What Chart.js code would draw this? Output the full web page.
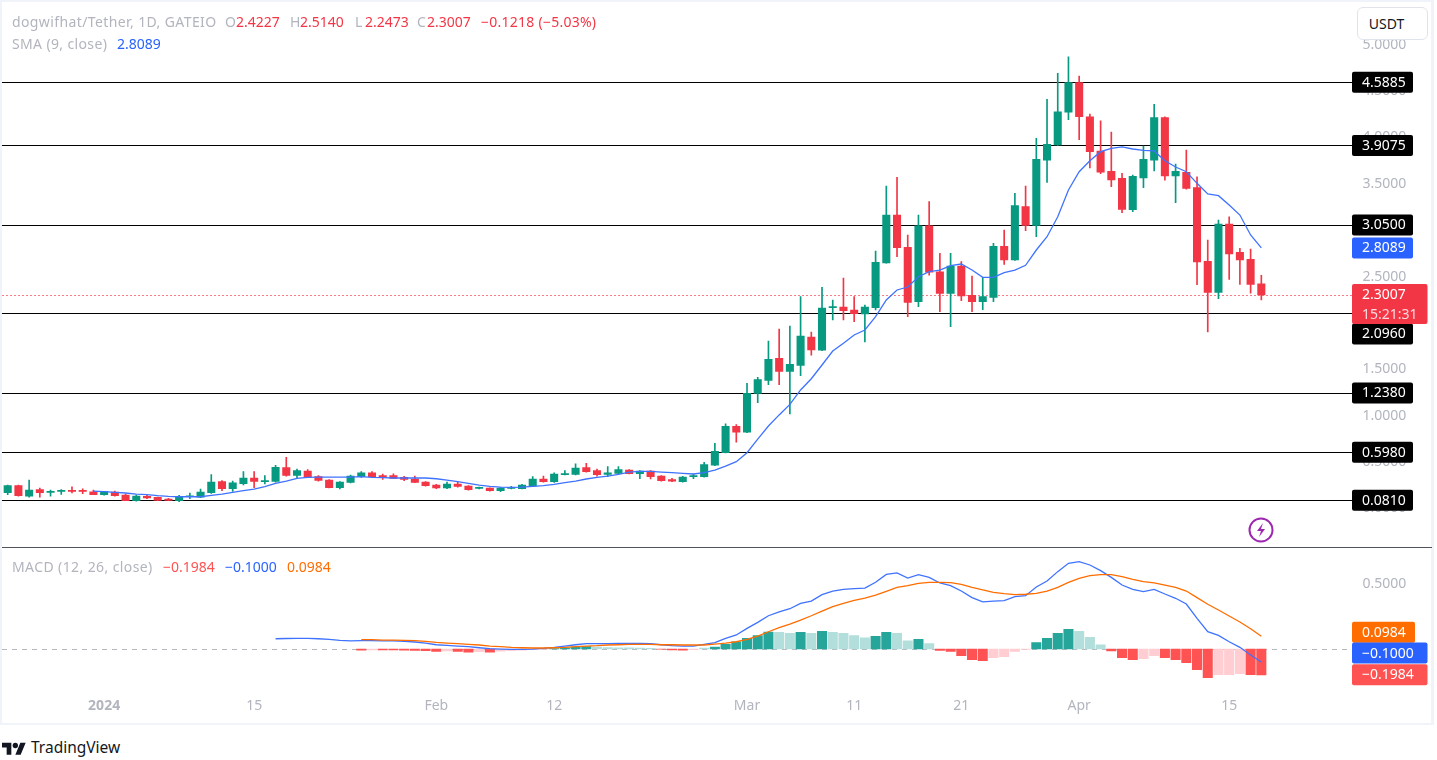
<!DOCTYPE html>
<html><head><meta charset="utf-8"><title>DOGWIF/USDT</title>
<script src="https://cdn.jsdelivr.net/npm/chart.js@4"></script>
<style>
html,body{margin:0;padding:0;background:#fff;width:1437px;height:760px;overflow:hidden}
body{font-family:"Noto Sans",sans-serif;position:relative}
canvas{position:absolute;left:0}
.t{position:absolute;white-space:pre;font-size:14px;line-height:18px;color:#b2b5be}
.frame{position:absolute;left:0;top:0;width:1429px;height:721px;border:2px solid #f0f3fa;border-right-width:3px}
.sep{position:absolute;left:2px;top:547px;width:1430px;height:1px;background:#50535e}
.btn{position:absolute;left:1357px;top:7px;width:57px;height:31px;padding-right:12px;border:1px solid #e0e3eb;border-radius:6px;background:#fff;color:#131722;font-size:14px;line-height:31px;text-align:center}
svg{position:absolute}
</style></head><body>
<canvas id="main" width="1433" height="548" style="top:0;width:1433px;height:548px"></canvas>
<canvas id="osc" width="1433" height="176" style="top:548px;width:1433px;height:176px"></canvas>
<div class="frame"></div><div class="sep"></div>
<div class="btn">USDT</div>
<div id="legend"></div>
<svg style="left:1248px;top:517px" width="26" height="26" viewBox="0 0 26 26"><circle cx="13" cy="13" r="11.5" fill="#fff" stroke="#9c27b0" stroke-width="2"/><path d="M15 6l-6 8h4l-2 6 6-8h-4z" fill="#9c27b0"/></svg>
<svg style="left:2px;top:740px" width="24" height="15" viewBox="0 0 36 22"><path d="M14 22H7V11H0V4h14v18zM28 22h-8l7.5-18h8L28 22z" fill="#131722"/><circle cx="20" cy="8" r="4" fill="#131722"/></svg>
<div class="t" style="left:31px;top:738px;font-size:15.5px;color:#131722">TradingView</div>
<script>
// ---- data ----
const opens=[.170,.245,.133,.202,.173,.184,.191,.191,.180,.148,
.176,.144,.083,.130,.119,.101,.083,.126,.122,.169,
.288,.212,.266,.328,.288,.292,.439,.356,.403,.342,
.306,.223,.281,.342,.385,.353,.353,.335,.317,.284,
.252,.220,.263,.241,.216,.220,.191,.216,.212,.241,
.317,.288,.364,.367,.439,.407,.367,.378,.414,.374,
.403,.349,.310,.288,.342,.342,.465,.601,.886,.821,
1.241,1.381,1.618,1.478,1.543,1.848,1.705,2.164,2.171,2.139,
2.096,2.164,2.646,3.163,2.815,2.229,3.048,2.552,2.319,2.614,
2.298,2.229,2.276,2.826,2.678,3.253,3.052,3.756,3.918,4.271,
4.590,4.223,3.853,3.635,3.559,3.221,3.562,3.756,4.213,3.584,
3.624,3.458,2.664,2.330,3.066,2.761,2.686,2.4227];
const highs=[.252,.252,.306,.220,.198,.202,.234,.212,.198,.184,
.187,.155,.144,.144,.122,.108,.140,.166,.209,.364,
.299,.295,.396,.396,.353,.464,.551,.425,.418,.353,
.310,.288,.360,.396,.396,.371,.374,.346,.349,.288,
.259,.284,.288,.245,.230,.223,.227,.238,.259,.342,
.349,.385,.407,.482,.486,.425,.450,.450,.418,.407,
.407,.353,.324,.346,.371,.497,.702,.911,.904,1.349,
1.414,1.805,1.934,1.967,2.283,1.902,2.384,2.247,2.484,2.283,
2.193,2.775,3.476,3.570,2.948,3.163,3.307,2.750,2.750,2.660,
2.506,2.492,2.858,3.002,3.397,3.476,3.990,4.411,4.691,4.870,
4.662,4.252,4.180,4.058,3.613,3.595,3.907,4.357,4.223,3.713,
3.864,3.576,2.894,3.110,3.145,2.804,2.797,2.514];
const lows=[.148,.133,.122,.122,.133,.151,.166,.158,.148,.144,
.133,.083,.079,.104,.083,.083,.072,.104,.115,.162,
.191,.184,.252,.223,.263,.284,.349,.320,.335,.295,
.220,.209,.274,.335,.338,.313,.320,.299,.277,.241,
.212,.212,.230,.198,.209,.187,.180,.209,.209,.238,
.284,.281,.360,.360,.392,.349,.342,.374,.371,.320,
.317,.295,.288,.284,.320,.338,.461,.598,.713,.817,
1.140,1.334,1.334,1.018,1.431,1.651,1.700,2.031,2.031,2.013,
1.794,2.139,2.643,2.714,2.067,2.175,2.516,2.121,1.959,2.239,
2.121,2.142,2.229,2.632,2.675,2.994,2.929,3.516,3.915,4.191,
3.975,3.670,3.609,3.469,3.188,3.199,3.458,3.638,3.538,3.296,
3.441,2.412,1.902,2.261,2.470,2.416,2.322,2.2473];
const closes=[.245,.137,.198,.170,.180,.191,.184,.184,.148,.184,
.137,.083,.133,.112,.086,.086,.130,.133,.176,.284,
.212,.277,.328,.292,.299,.443,.356,.407,.338,.302,
.223,.284,.349,.385,.342,.338,.324,.313,.281,.245,
.220,.263,.238,.202,.220,.191,.220,.227,.252,.317,
.288,.371,.371,.436,.396,.364,.385,.418,.374,.403,
.342,.299,.295,.338,.353,.472,.616,.886,.821,1.241,
1.388,1.608,1.478,1.554,1.859,1.708,2.161,2.175,2.132,2.099,
2.171,2.653,3.163,2.811,2.222,3.048,2.546,2.319,2.614,2.290,
2.229,2.283,2.826,2.678,3.264,3.050,3.764,3.926,4.277,4.590,
4.223,3.846,3.624,3.541,3.225,3.581,3.764,4.213,3.584,3.635,
3.451,2.657,2.330,3.066,2.743,2.678,2.416,2.3007];
const smaValues=[null,null,null,null,null,null,null,null,
.187,.180,.173,.166,.155,.148,.137,.130,.126,.126,.126,.140,.155,.173,.191,.209,.234,.270,.295,.324,.335,.338,.338,.338,.338,.342,
.335,.331,.328,.328,.328,.328,.320,.306,.288,.270,.252,.238,.230,.227,.230,.238,.245,.259,.277,.295,.317,.335,.349,.367,.392,.400,.400,.392,.385,.378,.371,
.385,.414,.457,.504,.601,.748,.888,1.008,1.122,1.277,1.398,1.546,1.697,1.780,1.870,1.924,2.067,2.247,2.355,2.387,
2.498,2.552,2.570,2.617,2.635,2.570,2.492,2.492,2.541,2.570,2.621,2.786,2.929,
3.145,3.433,3.630,3.749,3.846,3.883,3.897,3.875,3.861,3.854,3.749,3.681,3.630,3.505,3.390,3.372,3.271,3.163,2.948,2.8089];
const macdValues=[null,null,null,null,null,null,null,null,null,null,null,null,null,null,null,null,null,null,null,null,null,null,null,null,null,
.079,.081,.082,.082,.079,.074,.067,.062,.064,.064,.063,.062,.059,.054,.046,.033,.028,.023,.018,.010,.003,0,-.003,-.003,0,.005,.013,.023,.033,.041,.041,.041,.044,.044,.044,.041,.033,.026,.023,.023,
.036,.049,.082,.108,.159,.205,.256,.285,.310,.351,.369,.418,.446,.459,.464,.469,.513,.574,.585,.546,.572,.551,.508,.487,.446,.395,.362,.369,.372,
.403,.410,.477,.523,.595,.659,.672,.646,.603,.551,.492,.459,.441,.459,.423,.390,.346,.236,.133,.105,.056,.013,-.046,-.1];
const signalValues=[null,null,null,null,null,null,null,null,null,null,null,null,null,null,null,null,null,null,null,null,null,null,null,null,null,null,null,null,null,null,null,null,null,
.072,.072,.069,.069,.067,.064,.059,.051,.046,.041,.036,.031,.023,.018,.013,.010,.008,.008,.010,.013,.018,.023,.026,.031,.033,.036,.036,.036,.033,.033,.031,.031,
.031,.038,.046,.056,.074,.100,.133,.164,.192,.223,.256,.292,.326,.351,.374,.392,.415,.444,.474,.487,.505,.513,.513,.510,.497,.474,.454,.436,.426,
.418,.421,.428,.446,.474,.513,.544,.564,.572,.572,.556,.536,.518,.508,.492,.474,.446,.395,.344,.300,.254,.208,.156,.0984];
const histValues=[null,null,null,null,null,null,null,null,null,null,null,null,null,null,null,null,null,null,null,null,null,null,null,null,null,null,null,null,null,null,null,null,null,
-.008,-.006,-.006,-.007,-.008,-.010,-.013,-.018,-.015,-.018,-.024,-.020,-.024,-.016,-.012,-.008,-.004,-.002,
.003,.010,.015,.018,.015,.012,.010,.009,.008,.005,-.002,-.006,-.008,-.005,
.008,.015,.036,.056,.082,.103,.131,.128,.121,.128,.121,.136,.128,.121,.103,.087,.097,.128,.121,.064,.074,.041,
-.010,-.018,-.051,-.082,-.090,-.067,-.059,-.018,-.003,
.049,.082,.121,.151,.136,.090,.033,
-.015,-.067,-.082,-.074,-.051,-.067,-.082,-.105,-.159,-.221,-.197,-.197,-.190,-.197,-.1984];
// true where the histogram bar is drawn in the strong shade
const histStrong=[0,0,0,0,0,0,0,0,0,0,0,0,0,0,0,0,0,0,0,0,0,0,0,0,0,0,0,0,0,0,0,0,0,
1,0,1,1,1,1,1,1,0,1,1,0,1,0,0,0,0,0,
1,1,1,1,0,0,0,0,0,0,1,1,1,0,
0,1,1,1,1,1,1,0,0,1,0,1,0,0,0,0,1,1,0,0,1,0,
1,1,1,1,1,0,0,0,0,
1,1,1,1,0,0,0,
1,1,1,0,0,1,1,1,1,1,0,0,0,1,1];
const levels=[4.5885,3.9075,3.05,2.096,1.238,0.598,0.081];
const priceTicks=[5,4.5,4,3.5,3,2.5,2,1.5,1,0.5,0];
const oscTicks=[0.5];
const lastPrice=2.3007, lastSma=2.8089;
const tickDates=['2024-01-01','2024-01-15','2024-02-01','2024-02-12','2024-03-01','2024-03-11','2024-03-21','2024-04-01','2024-04-15'];
const tickTexts=['2024','15','Feb','12','Mar','11','21','Apr','15'];
const firstDay='2023-12-23', dayCount=118, blankDays=8;

// ---- styling ----
const UP='#089981',DOWN='#f23645',GREY='#b2b5be',FONT='"Noto Sans",sans-serif';
const categories=[];
for(let i=0;i<dayCount+blankDays;i++){categories.push(new Date(Date.parse(firstDay+'T00:00:00Z')+i*864e5).toISOString().slice(0,10));}
const candleColors=opens.map((o,i)=>closes[i]>=o?UP:DOWN);
const histColors=histValues.map((v,i)=>v>=0?(histStrong[i]?'#26a69a':'#b2dfdb'):(histStrong[i]?'#ff5252':'#ffcdd2'));
const PANE_RIGHT=1352.4, AXIS_W=1433-PANE_RIGHT;

function tag(ctx,x,y,w,h,color,lines){
  ctx.save();ctx.fillStyle=color;ctx.beginPath();ctx.roundRect(x,y-h/2,w,h,2);ctx.fill();
  ctx.font='14px '+FONT;ctx.textBaseline='middle';ctx.textAlign='left';
  lines.forEach(l=>{ctx.fillStyle=l.c||'#fff';ctx.fillText(l.t,x+10,y+(l.dy||0)+.5);});
  ctx.restore();
}
const mainPlugin={id:'mainOverlay',
  beforeDatasetsDraw(c){const g=c.ctx,s=c.scales.y,a=c.chartArea;g.save();
    g.strokeStyle='#000';g.lineWidth=1.1;
    levels.forEach(v=>{const y=Math.floor(s.getPixelForValue(v)-.3)+.5;g.beginPath();g.moveTo(2,y);g.lineTo(a.right,y);g.stroke();});
    g.strokeStyle='rgba(242,54,69,.65)';g.lineWidth=1;g.setLineDash([2,2]);
    const y=Math.round(s.getPixelForValue(lastPrice))+.5;g.beginPath();g.moveTo(2,y);g.lineTo(a.right,y);g.stroke();
    g.restore();},
  afterDraw(c){const g=c.ctx,s=c.scales.y,x=1352,p=v=>s.getPixelForValue(v);
    levels.forEach(v=>{let y=p(v)-.6;if(v===2.096)y+=20.6;tag(g,x,y,61,21,'#000',[{t:v.toFixed(4)}]);});
    tag(g,x,p(lastSma),61,21,'#2962ff',[{t:lastSma.toFixed(4)}]);
    tag(g,x,304,75.5,40,DOWN,[{t:lastPrice.toFixed(4),dy:-9},{t:'15:21:31',dy:11,c:'#fcd9de'}]);
  }};
const oscPlugin={id:'oscOverlay',
  beforeDatasetsDraw(c){const g=c.ctx,s=c.scales.y,a=c.chartArea;g.save();g.strokeStyle='rgba(120,123,134,.55)';g.lineWidth=1;g.setLineDash([5,5]);
    const y=Math.round(s.getPixelForValue(0))+.5;g.beginPath();g.moveTo(2,y);g.lineTo(a.right,y);g.stroke();g.restore();},
  afterDraw(c){const g=c.ctx,s=c.scales.y,x=1352,p=v=>s.getPixelForValue(v);
    tag(g,x,p(.0984)-4,63,21,'#ff6d00',[{t:'0.0984'}]);
    tag(g,x,p(-.1)-9,75.5,21,'#2962ff',[{t:'\u22120.1000'}]);
    tag(g,x,p(-.1984),75.5,21,'#ff5252',[{t:'\u22120.1984'}]);
  }};
const yAxis=(min,max,ticks)=>({position:'right',min,max,
  afterBuildTicks:s=>{s.ticks=ticks.map(v=>({value:v}));},
  afterFit:s=>{s.width=AXIS_W;s.paddingTop=0;s.paddingBottom=0;},
  grid:{display:false,drawTicks:false},border:{display:false},
  ticks:{color:GREY,font:{family:FONT,size:14},padding:10,callback:v=>v.toFixed(4)}});

new Chart(document.getElementById('main'),{
  type:'bar',
  data:{labels:categories,datasets:[
    {type:'line',label:'SMA',data:smaValues,borderColor:'#3f73ff',borderWidth:1.3,pointRadius:0,tension:0,order:0},
    {label:'Body',data:opens.map((o,i)=>[o,closes[i]]),backgroundColor:candleColors,barThickness:7.4,minBarLength:1,order:1},
    {label:'Wick',data:highs.map((h,i)=>[lows[i],h]),backgroundColor:candleColors,barThickness:1,order:2}
  ]},
  options:{animation:false,responsive:false,devicePixelRatio:1,
    layout:{autoPadding:false,padding:{left:2.34,top:2,bottom:1,right:0}},
    plugins:{legend:{display:false},tooltip:{enabled:false}},
    datasets:{bar:{grouped:false}},
    scales:{x:{display:false,offset:true},y:yAxis(-0.416,5.46,priceTicks)}},
  plugins:[mainPlugin]});

new Chart(document.getElementById('osc'),{
  type:'bar',
  data:{labels:categories,datasets:[
    {type:'line',label:'MACD',data:macdValues,borderColor:'#3f73ff',borderWidth:1.3,pointRadius:0,tension:0,order:1},
    {type:'line',label:'Signal',data:signalValues,borderColor:'#ff6d00',borderWidth:1.3,pointRadius:0,tension:0,order:0},
    {label:'Histogram',data:histValues,backgroundColor:histColors,barThickness:9.4,order:2}
  ]},
  options:{animation:false,responsive:false,devicePixelRatio:1,
    layout:{autoPadding:false,padding:{left:2.34,top:1,bottom:0,right:0}},
    plugins:{legend:{display:false},tooltip:{enabled:false}},
    datasets:{bar:{grouped:false}},
    scales:{
      x:{offset:true,afterFit:s=>{s.height=31;s.paddingLeft=0;s.paddingRight=0;},grid:{display:false,drawTicks:false},border:{display:false},
        ticks:{autoSkip:false,maxRotation:0,padding:5,color:GREY,
          font:ctx=>({family:FONT,size:14,weight:ctx.tick&&ctx.tick.label==='2024'?'bold':'normal'}),
          callback:(v,i)=>{const k=tickDates.indexOf(categories[i]);return k<0?'':tickTexts[k];}}},
      y:yAxis(-0.338,0.769,oscTicks)}},
  plugins:[oscPlugin]});

// ---- legend text ----
const legendItems=[
 ['dogwifhat/Tether, 1D, GATEIO',12,13,GREY,.39],['O',225,13,GREY,0],['2.4227',236,13,DOWN,0],['H',290,13,GREY,0],['2.5140',300,13,DOWN,0],
 ['L',355,13,GREY,0],['2.2473',365,13,DOWN,0],['C',417,13,GREY,0],['2.3007',427,13,DOWN,0],['\u22120.1218 (\u22125.03%)',481,13,DOWN,.25],
 ['SMA (9, close)',12,35,GREY,.36],['2.8089',117,35,'#2962ff',0],
 ['MACD (12, 26, close)',12,558,GREY,.4],['\u22120.1984',163,558,'#ff5252',0],['\u22120.1000',225,558,'#2962ff',0],['0.0984',287,558,'#ff6d00',0]];
const box=document.getElementById('legend');
legendItems.forEach(([t,x,y,c,sp])=>{const d=document.createElement('div');d.className='t';d.textContent=t;d.style.left=x+'px';d.style.top=y+'px';d.style.color=c;d.style.letterSpacing=sp+'px';box.appendChild(d);});
</script>
</body></html>
